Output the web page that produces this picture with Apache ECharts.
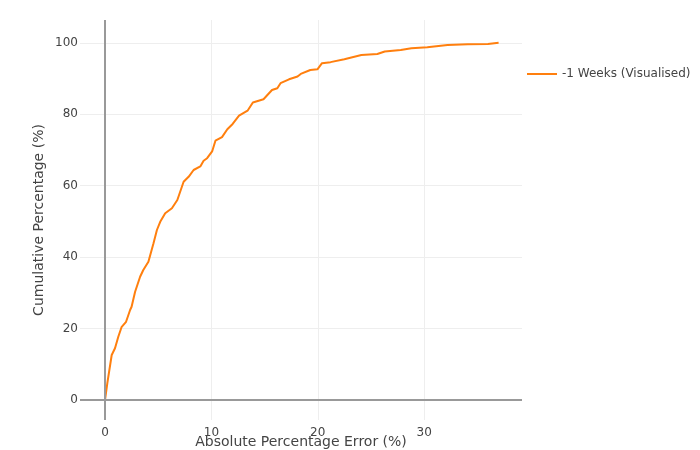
<!DOCTYPE html>
<html>
<head>
<meta charset="utf-8">
<script src="https://cdn.jsdelivr.net/npm/echarts@6/dist/echarts.min.js"></script>
<style>
  html, body { margin: 0; padding: 0; background: #fff; }
  #chart { width: 700px; height: 450px; }
</style>
</head>
<body>
<div id="chart"></div>
<script>
// absolute percentage error (%) vs cumulative share of forecasts (%)
var errorPct = [0, 0.22, 0.63, 0.94, 1.25, 1.57, 1.98, 2.36, 2.5, 2.83, 3.3, 3.6, 4.08, 4.56, 4.88, 5.19,
  5.66, 6.29, 6.8, 7.39, 7.86, 8.33, 8.96, 9.27, 9.6, 10.07, 10.38, 11.0, 11.5, 12.0, 12.6, 13.4, 13.9,
  14.9, 15.7, 16.2, 16.5, 17.3, 18.1, 18.4, 19.3, 19.97, 20.4, 21.2, 22.5, 24.1, 25.6, 26.3, 27.8, 28.8,
  30.3, 32.2, 34.1, 36.0, 36.6, 37.0];
var cumPct = [0, 4.7, 12.6, 14.5, 17.7, 20.5, 21.9, 25.2, 26.1, 30.3, 34.5, 36.4, 38.7, 43.9, 47.6, 49.9,
  52.3, 53.7, 56, 61.1, 62.5, 64.4, 65.4, 67, 67.7, 69.6, 72.6, 73.6, 75.8, 77.3, 79.6, 81, 83.3,
  84.2, 86.8, 87.3, 88.7, 89.8, 90.6, 91.3, 92.4, 92.6, 94.3, 94.6, 95.4, 96.6, 96.9, 97.6, 98, 98.5,
  98.8, 99.4, 99.6, 99.7, 99.9, 100];
var seriesName = '-1 Weeks (Visualised)';

var points = errorPct.map(function (x, i) { return [x, cumPct[i]]; });
var font = '"DejaVu Sans", Verdana, sans-serif';

var chart = echarts.init(document.getElementById('chart'));
chart.setOption({
  animation: false,
  textStyle: { fontFamily: font, color: '#444' },
  grid: { left: 80, right: 178, top: 20, bottom: 30, outerBoundsMode: 'none', containLabel: false },
  legend: {
    left: 522, top: 63,
    icon: 'rect',
    itemWidth: 30, itemHeight: 2,
    textStyle: { fontFamily: font, fontSize: 12, color: '#444' },
    data: [seriesName]
  },
  xAxis: {
    type: 'value',
    min: -2.35, max: 39.2,
    name: 'Absolute Percentage Error (%)',
    nameLocation: 'middle',
    nameGap: 15,
    nameMoveOverlap: false,
    nameTextStyle: { fontFamily: font, fontSize: 14, color: '#444' },
    axisLine: { show: false, onZero: false },
    axisTick: { show: false },
    axisLabel: { margin: 7, fontSize: 12, color: '#444', fontFamily: font, showMinLabel: false, showMaxLabel: false },
    splitLine: { show: true, showMinLine: false, showMaxLine: false, lineStyle: { color: '#eee', width: 1 } }
  },
  yAxis: {
    type: 'value',
    min: -5.6, max: 106.4,
    name: 'Cumulative Percentage (%)',
    nameLocation: 'middle',
    nameGap: 34,
    nameMoveOverlap: false,
    nameTextStyle: { fontFamily: font, fontSize: 14, color: '#444' },
    axisLine: { show: false, onZero: false },
    axisTick: { show: false },
    axisLabel: { margin: 2, fontSize: 12, color: '#444', fontFamily: font, showMinLabel: false, showMaxLabel: false },
    splitLine: { show: true, showMinLine: false, showMaxLine: false, lineStyle: { color: '#eee', width: 1 } }
  },
  series: [{
    name: seriesName,
    type: 'line',
    data: points,
    showSymbol: false,
    symbol: 'none',
    lineStyle: { color: '#ff7f0e', width: 2 },
    itemStyle: { color: '#ff7f0e' },
    markLine: {
      silent: true,
      symbol: 'none',
      label: { show: false },
      lineStyle: { color: '#999', width: 2, type: 'solid' },
      data: [{ xAxis: 0 }, { yAxis: 0 }]
    },
    z: 3
  }]
});
</script>
</body>
</html>
